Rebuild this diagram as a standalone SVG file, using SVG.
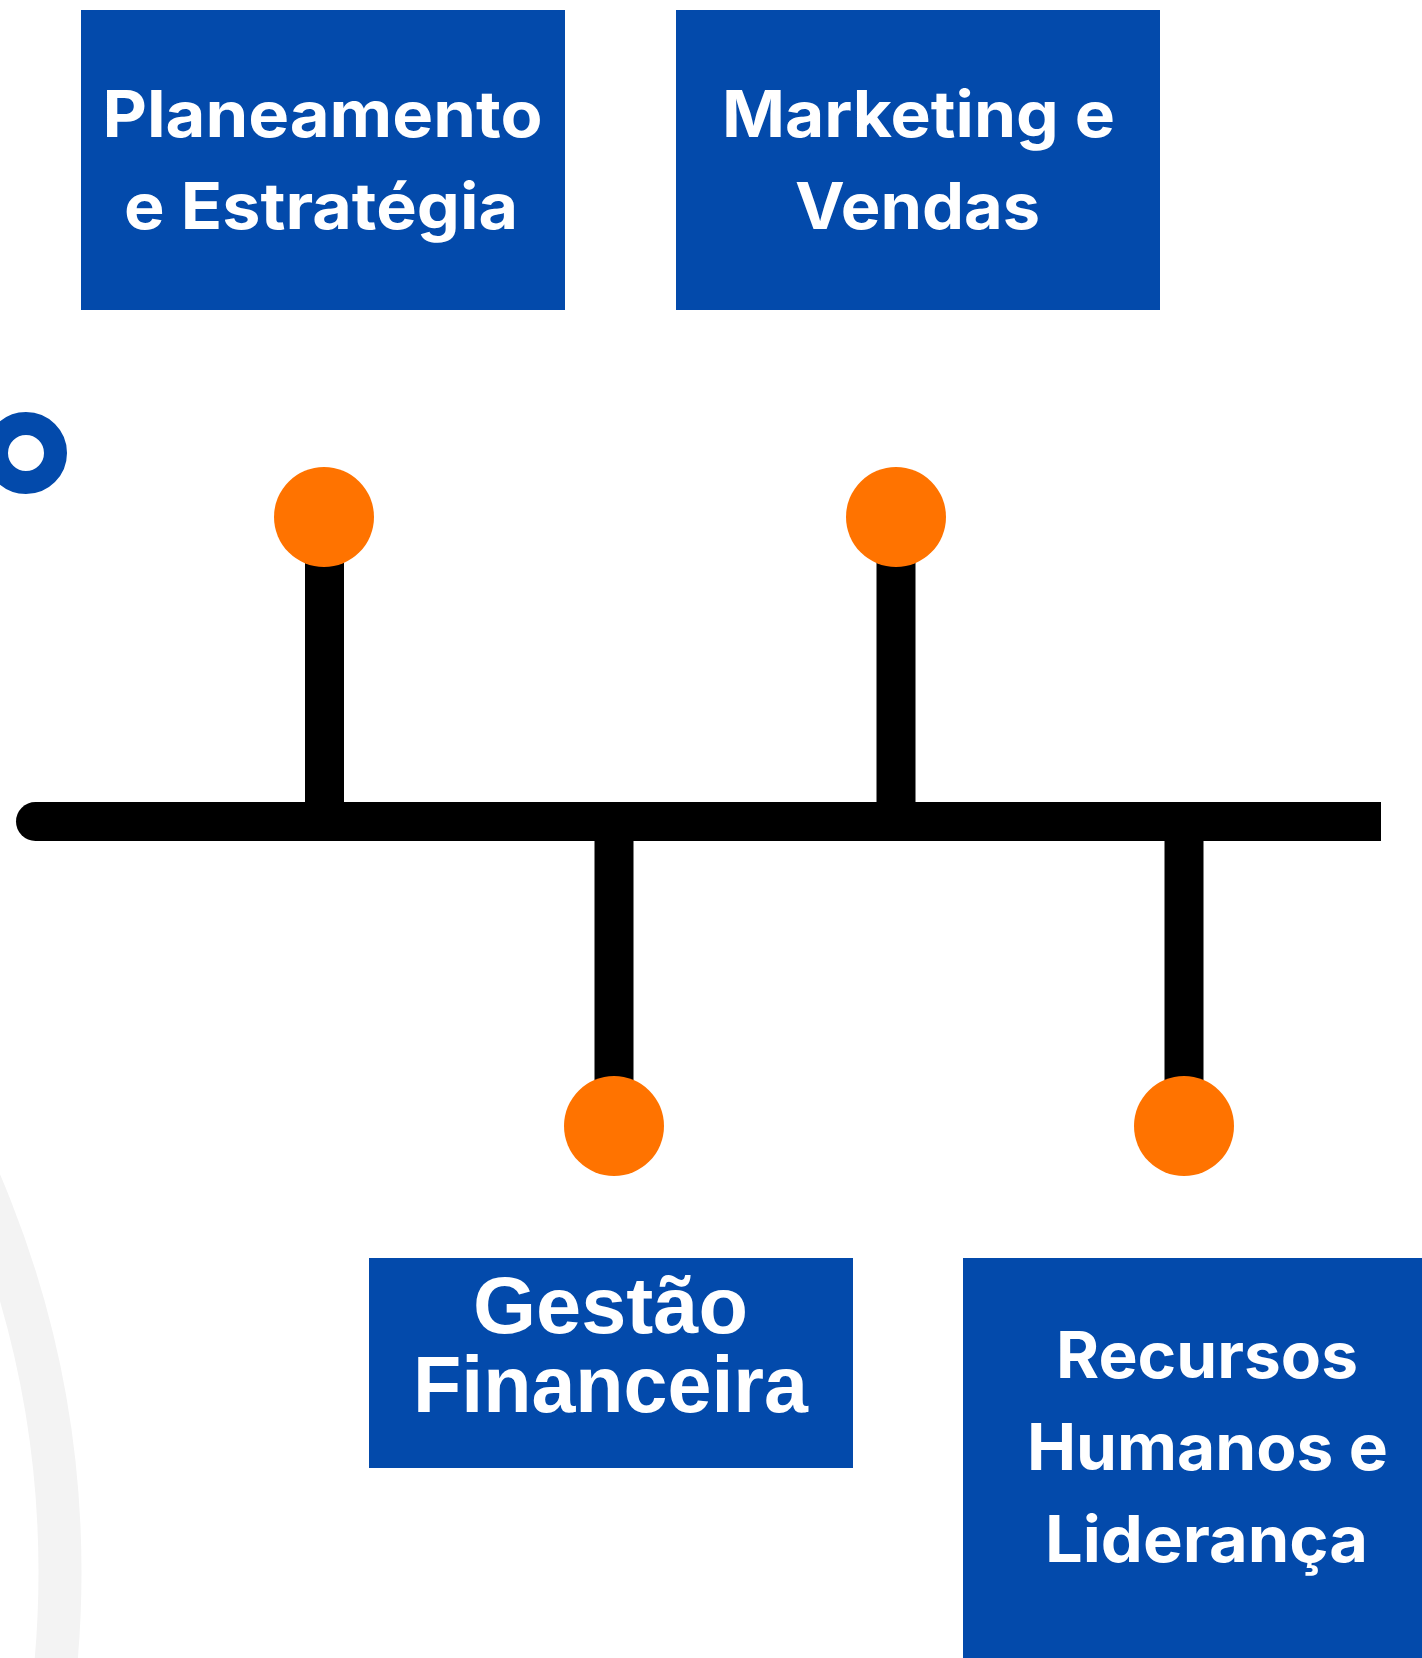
<svg xmlns="http://www.w3.org/2000/svg" width="1422" height="1658" viewBox="0 0 1422 1658">
<style>
.box{fill:#034aab}
.t{fill:#ffffff;font-family:Inter,"Liberation Sans",sans-serif;font-weight:700;text-anchor:middle}
.t1{font-size:64px}
.t2{font-family:"Liberation Sans",Arial,sans-serif;font-size:80px}
.stem{stroke:#000000;stroke-width:39;fill:none}
.dot{fill:#ff7300}
</style>
<rect width="1422" height="1658" fill="#ffffff"/>
<circle cx="-930" cy="1572" r="990" fill="none" stroke="#f3f3f3" stroke-width="43"/>
<circle cx="26" cy="453" r="29.5" fill="none" stroke="#034aab" stroke-width="23"/>
<g id="connectors">
  <path d="M35.5,802 H1381 V841 H35.5 A19.5,19.5 0 0 1 35.5,802 Z" fill="#000000"/>
  <line class="stem" x1="324.5" y1="517" x2="324.5" y2="810"/>
  <line class="stem" x1="896" y1="517" x2="896" y2="810"/>
  <line class="stem" x1="614" y1="835" x2="614" y2="1126"/>
  <line class="stem" x1="1184" y1="835" x2="1184" y2="1126"/>
</g>
<g id="dot1"><circle class="dot" cx="324" cy="517" r="50"/></g>
<g id="dot2"><circle class="dot" cx="896" cy="517" r="50"/></g>
<g id="dot3"><circle class="dot" cx="614" cy="1126" r="50"/></g>
<g id="dot4"><circle class="dot" cx="1184" cy="1126" r="50"/></g>
<g id="node-planeamento">
  <rect class="box" x="81" y="10" width="484" height="300"/>
  <text class="t t1" x="322.5" y="137" textLength="440" lengthAdjust="spacingAndGlyphs">Planeamento</text>
  <text class="t t1" x="321" y="229" textLength="394" lengthAdjust="spacingAndGlyphs">e Estratégia</text>
</g>
<g id="node-marketing">
  <rect class="box" x="676" y="10" width="484" height="300"/>
  <text class="t t1" x="918.5" y="137" textLength="393" lengthAdjust="spacingAndGlyphs">Marketing e</text>
  <text class="t t1" x="917.5" y="229" textLength="245" lengthAdjust="spacingAndGlyphs">Vendas</text>
</g>
<g id="node-gestao">
  <rect class="box" x="369" y="1258" width="484" height="210"/>
  <text class="t t2" x="610.5" y="1333" textLength="275" lengthAdjust="spacingAndGlyphs">Gestão</text>
  <text class="t t2" x="610.5" y="1412" textLength="395" lengthAdjust="spacingAndGlyphs">Financeira</text>
</g>
<g id="node-rh">
  <rect class="box" x="963" y="1258" width="459" height="400"/>
  <text class="t t1" x="1207" y="1378" textLength="302" lengthAdjust="spacingAndGlyphs">Recursos</text>
  <text class="t t1" x="1207.5" y="1470" textLength="361" lengthAdjust="spacingAndGlyphs">Humanos e</text>
  <text class="t t1" x="1206.5" y="1562" textLength="323" lengthAdjust="spacingAndGlyphs">Liderança</text>
</g>
</svg>
